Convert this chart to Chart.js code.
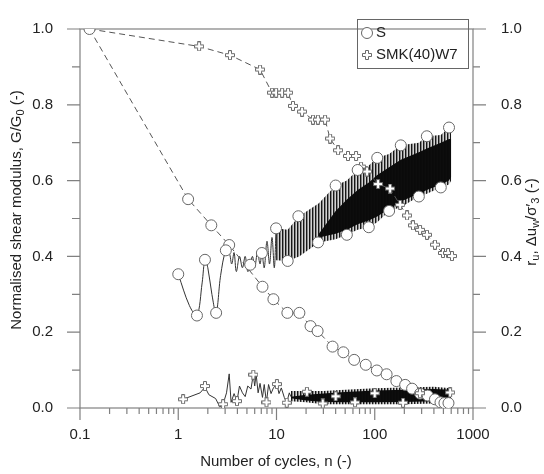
<!DOCTYPE html>
<html>
<head>
<meta charset="utf-8">
<script src="https://cdn.jsdelivr.net/npm/chart.js@4.4.1/dist/chart.umd.min.js"></script>
<style>
html, body { margin: 0; padding: 0; background: #fff; }
#wrap { width: 544px; height: 474px; }
</style>
</head>
<body>
<div id="wrap"><canvas id="chart" width="544" height="474"></canvas></div>
<script>
// Axis ticks
const xTickValues = [0.1, 1, 10, 100, 1000];
const xTickLabels = ['0.1', '1', '10', '100', '1000'];
const yTickValues = [0, 0.2, 0.4, 0.6, 0.8, 1.0];
const yTickLabels = ['0.0', '0.2', '0.4', '0.6', '0.8', '1.0'];

// G/G0 degradation - S (circles, dashed)
const sCycles = [0.125, 1.26, 2.17, 3.3, 7.2, 9.3, 12.9, 17.1, 22.2, 26.2, 37.2, 47.9, 61.7, 81, 105, 132, 166, 204, 240, 289, 346, 410, 467, 512, 563];
const sModulus = [1.0, 0.551, 0.482, 0.43, 0.32, 0.287, 0.251, 0.251, 0.216, 0.203, 0.162, 0.147, 0.127, 0.114, 0.099, 0.089, 0.071, 0.061, 0.051, 0.038, 0.033, 0.023, 0.015, 0.013, 0.013];

// G/G0 degradation - SMK(40)W7 (crosses, dashed)
const smkCycles = [0.125, 1.63, 3.36, 6.8, 9.0, 9.9, 11.4, 13.1, 14.7, 18.2, 23.5, 26.4, 31.2, 35.1, 42.3, 53.4, 64.5, 72.5, 83.4, 108, 143, 181, 213, 245, 289, 340, 410, 495, 557, 611];
const smkModulus = [1.0, 0.954, 0.931, 0.893, 0.832, 0.832, 0.832, 0.832, 0.797, 0.782, 0.761, 0.761, 0.761, 0.711, 0.680, 0.665, 0.665, 0.637, 0.624, 0.591, 0.579, 0.536, 0.508, 0.482, 0.470, 0.457, 0.431, 0.409, 0.409, 0.401];

// Pore pressure ratio - S, marked extremes
const sRuCycles = [1.0, 1.55, 1.87, 2.43, 3.05, 5.4, 7.1, 9.9, 13, 16.7, 26.5, 40, 52, 67, 87, 106, 140, 184, 281, 339, 470, 570];
const sRuMarks = [0.353, 0.244, 0.391, 0.251, 0.416, 0.378, 0.409, 0.474, 0.388, 0.506, 0.437, 0.587, 0.457, 0.628, 0.477, 0.660, 0.520, 0.693, 0.558, 0.717, 0.582, 0.740];

// Pore pressure ratio - S, trace of the first cycles
const sTraceCycles = [1.0, 1.3, 1.55, 1.75, 1.87, 2.0, 2.2, 2.43, 2.7, 3.05, 3.3, 3.5, 3.7, 3.9, 4.2, 4.5, 4.8, 5.1, 5.4, 5.7, 6.0, 6.4, 6.8, 7.1, 7.5, 8.0, 8.5, 9.0, 9.5, 9.9];
const sTraceRu = [0.353, 0.27, 0.244, 0.33, 0.391, 0.37, 0.30, 0.251, 0.35, 0.416, 0.41, 0.38, 0.41, 0.36, 0.40, 0.37, 0.40, 0.36, 0.378, 0.40, 0.37, 0.41, 0.38, 0.409, 0.37, 0.44, 0.38, 0.45, 0.37, 0.474];

// Pore pressure ratio - S, dense band envelope
const sBandCycles = [9.9, 13, 17, 27, 40, 52, 67, 87, 106, 140, 184, 281, 339, 470, 570, 600];
const sBandUpper = [0.474, 0.47, 0.506, 0.54, 0.587, 0.60, 0.628, 0.64, 0.66, 0.67, 0.693, 0.70, 0.717, 0.72, 0.74, 0.73];
const sBandLower = [0.39, 0.388, 0.40, 0.437, 0.445, 0.457, 0.47, 0.477, 0.49, 0.52, 0.53, 0.558, 0.565, 0.582, 0.59, 0.60];
// Pore pressure ratio - S, solid core of the band
const sCoreCycles = [27, 40, 52, 67, 87, 106, 140, 184, 281, 339, 470, 570, 600];
const sCoreUpper = [0.46, 0.52, 0.55, 0.575, 0.595, 0.615, 0.635, 0.655, 0.675, 0.685, 0.70, 0.71, 0.71];
const sCoreLower = [0.45, 0.46, 0.47, 0.485, 0.495, 0.505, 0.525, 0.545, 0.565, 0.575, 0.59, 0.60, 0.61];

// Pore pressure ratio - SMK(40)W7, marked extremes
const smkRuCycles = [1.12, 1.87, 2.86, 3.96, 5.8, 7.9, 10.1, 12.7, 20.4, 29.6, 40, 63, 100, 194, 288, 585];
const smkRuMarks = [0.023, 0.058, 0.010, 0.018, 0.088, 0.015, 0.063, 0.014, 0.043, 0.012, 0.031, 0.015, 0.039, 0.014, 0.039, 0.041];

// Pore pressure ratio - SMK(40)W7, trace of the first cycles
const smkTraceCycles = [1.12, 1.67, 1.87, 2.05, 2.4, 2.65, 2.86, 3.1, 3.3, 3.45, 3.7, 3.96, 4.2, 4.5, 4.8, 5.1, 5.5, 5.8, 6.0, 6.2, 6.5, 6.8, 7.2, 7.5, 7.9, 8.3, 8.8, 9.3, 10.1, 10.6, 11.2, 12.0, 12.7, 13.5, 14];
const smkTraceRu = [0.023, 0.040, 0.055, 0.035, 0.025, 0.003, 0.010, 0.040, 0.090, 0.015, 0.038, 0.018, 0.058, 0.040, 0.030, 0.058, 0.050, 0.088, 0.058, 0.090, 0.040, 0.065, 0.028, 0.062, 0.015, 0.062, 0.038, 0.053, 0.063, 0.038, 0.053, 0.028, 0.014, 0.040, 0.030];

// Pore pressure ratio - SMK(40)W7, dense band
const smkBandCycles = [14, 20, 30, 50, 100, 200, 400, 600];
const smkBandUpper = [0.045, 0.045, 0.045, 0.048, 0.052, 0.054, 0.056, 0.052];
const smkBandLower = [0.018, 0.015, 0.010, 0.010, 0.010, 0.010, 0.012, 0.015];
const smkCoreUpper = [0.030, 0.035, 0.038, 0.042, 0.046, 0.048, 0.050, 0.048];
const smkCoreLower = [0.026, 0.020, 0.016, 0.015, 0.015, 0.016, 0.018, 0.020];

const FONT = "'Liberation Sans', Arial, sans-serif";
const MARK = '#666';

function pts(xs, ys) {
    return xs.map((x, i) => ({ x: x, y: ys[i] }));
}

// hollow plus marker
function makeCross() {
    const c = document.createElement('canvas');
    c.width = 10; c.height = 10;
    const g = c.getContext('2d');
    const p = [[3.5,0.5],[6.5,0.5],[6.5,3.5],[9.5,3.5],[9.5,6.5],[6.5,6.5],[6.5,9.5],[3.5,9.5],[3.5,6.5],[0.5,6.5],[0.5,3.5],[3.5,3.5]];
    g.beginPath();
    p.forEach((q, i) => i ? g.lineTo(q[0], q[1]) : g.moveTo(q[0], q[1]));
    g.closePath();
    g.fillStyle = '#fff'; g.fill();
    g.strokeStyle = '#6a6a6a'; g.lineWidth = 1; g.stroke();
    return c;
}
const crossImg = makeCross();

// vertical stripes standing in for the dense oscillations
function makeStripes() {
    const c = document.createElement('canvas');
    c.width = 3; c.height = 1;
    const g = c.getContext('2d');
    g.fillStyle = 'rgba(10,10,10,0.95)';
    g.fillRect(0, 0, 1, 1);
    g.fillStyle = 'rgba(10,10,10,0.5)';
    g.fillRect(1, 0, 1, 1);
    g.fillStyle = 'rgba(10,10,10,0.18)';
    g.fillRect(2, 0, 1, 1);
    return document.getElementById('chart').getContext('2d').createPattern(c, 'repeat');
}
const stripes = makeStripes();

function bandSet(xs, ys, fillTarget, color) {
    return {
        data: pts(xs, ys), yAxisID: 'y2', borderWidth: 0, pointRadius: 0,
        fill: fillTarget === null ? false : fillTarget, backgroundColor: color, order: 6
    };
}

const datasets = [];
datasets.push(bandSet(sBandCycles, sBandLower, null, 'transparent'));        // 0
datasets.push(bandSet(sBandCycles, sBandUpper, 0, stripes));                 // 1
datasets.push(bandSet(sCoreCycles, sCoreLower, null, 'transparent'));        // 2
datasets.push(bandSet(sCoreCycles, sCoreUpper, 2, '#0d0d0d'));               // 3
datasets.push(bandSet(smkBandCycles, smkBandLower, null, 'transparent'));    // 4
datasets.push(bandSet(smkBandCycles, smkBandUpper, 4, stripes));             // 5
datasets.push(bandSet(smkBandCycles, smkCoreLower, null, 'transparent'));    // 6
datasets.push(bandSet(smkBandCycles, smkCoreUpper, 6, '#0d0d0d'));           // 7
datasets.push({
    data: pts(sTraceCycles, sTraceRu), yAxisID: 'y2', borderColor: '#333', borderWidth: 1,
    pointRadius: 0, tension: 0.35, fill: false, order: 4
});
datasets.push({
    data: pts(smkTraceCycles, smkTraceRu), yAxisID: 'y2', borderColor: '#333', borderWidth: 1,
    pointRadius: 0, tension: 0, fill: false, order: 4
});
datasets.push({
    label: 'S', data: pts(sCycles, sModulus), yAxisID: 'y', borderColor: '#555', borderWidth: 1,
    borderDash: [6, 4], pointStyle: 'circle', pointRadius: 5.5, pointBorderColor: MARK,
    pointBackgroundColor: '#fff', pointBorderWidth: 1, fill: false, order: 1
});
datasets.push({
    label: 'SMK(40)W7', data: pts(smkCycles, smkModulus), yAxisID: 'y', borderColor: '#555', borderWidth: 1,
    borderDash: [6, 4], pointStyle: crossImg, pointRadius: 5, fill: false, order: 1
});
datasets.push({
    data: pts(sRuCycles, sRuMarks), yAxisID: 'y2', showLine: false, pointStyle: 'circle', pointRadius: 5.5,
    pointBorderColor: MARK, pointBackgroundColor: '#fff', pointBorderWidth: 1, order: 0
});
datasets.push({
    data: pts(smkRuCycles, smkRuMarks), yAxisID: 'y2', showLine: false, pointStyle: crossImg, pointRadius: 5, order: 0
});

// frame, tick marks, axis titles and legend
const decorations = {
    id: 'decorations',
    beforeDatasetsDraw(chart) {
        const { ctx, chartArea: a, scales } = chart;
        ctx.save();
        ctx.strokeStyle = '#808080';
        ctx.lineWidth = 1.2;
        ctx.strokeRect(a.left, a.top, a.right - a.left, a.bottom - a.top);
        ctx.beginPath();
        for (let e = -1; e < 3; e++) {
            for (let m = 1; m < 10; m++) {
                const px = scales.x.getPixelForValue(m * Math.pow(10, e));
                ctx.moveTo(px, a.bottom);
                ctx.lineTo(px, a.bottom + (m === 1 ? 12 : 6));
            }
        }
        const px1000 = scales.x.getPixelForValue(1000);
        ctx.moveTo(px1000, a.bottom); ctx.lineTo(px1000, a.bottom + 12);
        for (let k = 0; k <= 10; k++) {
            const py = scales.y.getPixelForValue(k / 10);
            const major = k % 2 === 0;
            ctx.moveTo(a.left, py); ctx.lineTo(a.left - (major ? 13 : 8), py);
            ctx.moveTo(a.right, py); ctx.lineTo(a.right + (major ? 13 : 7), py);
        }
        ctx.stroke();
        ctx.restore();
    },
    afterDraw(chart) {
        const { ctx } = chart;
        drawRuns(ctx, [{ t: 'Number of cycles, n (-)' }], 276, 462, 0);
        drawRuns(ctx, [{ t: 'Normalised shear modulus, G/G' }, { t: '0', sub: true }, { t: ' (-)' }], 17, 210, -Math.PI / 2);
        drawRuns(ctx, [{ t: 'r' }, { t: 'u', sub: true }, { t: ', \u0394u' }, { t: 'w', sub: true },
            { t: '/\u03c3\u2032' }, { t: '3', sub: true }, { t: ' (-)' }], 532, 222, -Math.PI / 2);
        // legend
        ctx.save();
        ctx.strokeStyle = '#666';
        ctx.lineWidth = 1;
        ctx.strokeRect(357.5, 19.5, 111, 49);
        ctx.beginPath();
        ctx.arc(367, 33, 5.5, 0, Math.PI * 2);
        ctx.fillStyle = '#fff'; ctx.fill();
        ctx.strokeStyle = MARK; ctx.stroke();
        ctx.drawImage(crossImg, 367 - 5, 55 - 5);
        ctx.fillStyle = '#222';
        ctx.font = '15px ' + FONT;
        ctx.textBaseline = 'middle';
        ctx.fillText('S', 376, 33);
        ctx.fillText('SMK(40)W7', 376, 55);
        ctx.restore();
    }
};

function drawRuns(ctx, runs, cx, cy, angle) {
    const big = '15px ' + FONT, small = '11px ' + FONT;
    let w = 0;
    runs.forEach(r => { ctx.font = r.sub ? small : big; r.w = ctx.measureText(r.t).width; w += r.w; });
    ctx.save();
    ctx.translate(cx, cy);
    ctx.rotate(angle);
    ctx.textBaseline = 'middle';
    ctx.fillStyle = '#222';
    let x = -w / 2;
    runs.forEach(r => {
        ctx.font = r.sub ? small : big;
        ctx.fillText(r.t, x, r.sub ? 4 : 0);
        x += r.w;
    });
    ctx.restore();
}

const tickFont = { family: FONT, size: 15 };

new Chart(document.getElementById('chart'), {
    type: 'line',
    data: { datasets: datasets },
    options: {
        responsive: false,
        animation: false,
        devicePixelRatio: 1,
        layout: { padding: { top: 14, left: 0, right: 0, bottom: 0 } },
        plugins: { legend: { display: false }, tooltip: { enabled: false } },
        scales: {
            x: {
                type: 'logarithmic', min: 0.1, max: 1000, position: 'bottom',
                grid: { display: false }, border: { display: false },
                afterBuildTicks: s => { s.ticks = xTickValues.map(v => ({ value: v })); },
                afterFit: s => { s.height = 66; },
                ticks: { callback: (v, i) => xTickLabels[i], maxRotation: 0, autoSkip: false, padding: 10, color: '#222', font: tickFont }
            },
            y: {
                type: 'linear', min: 0, max: 1, position: 'left',
                grid: { display: false }, border: { display: false },
                afterBuildTicks: s => { s.ticks = yTickValues.map(v => ({ value: v })); },
                afterFit: s => { s.width = 80; },
                ticks: { callback: (v, i) => yTickLabels[i], padding: 19, color: '#222', font: tickFont }
            },
            y2: {
                type: 'linear', min: 0, max: 1, position: 'right',
                grid: { display: false }, border: { display: false },
                afterBuildTicks: s => { s.ticks = yTickValues.map(v => ({ value: v })); },
                afterFit: s => { s.width = 71; },
                ticks: { callback: (v, i) => yTickLabels[i], padding: 20, color: '#222', font: tickFont }
            }
        }
    },
    plugins: [decorations]
});
</script>
</body>
</html>
